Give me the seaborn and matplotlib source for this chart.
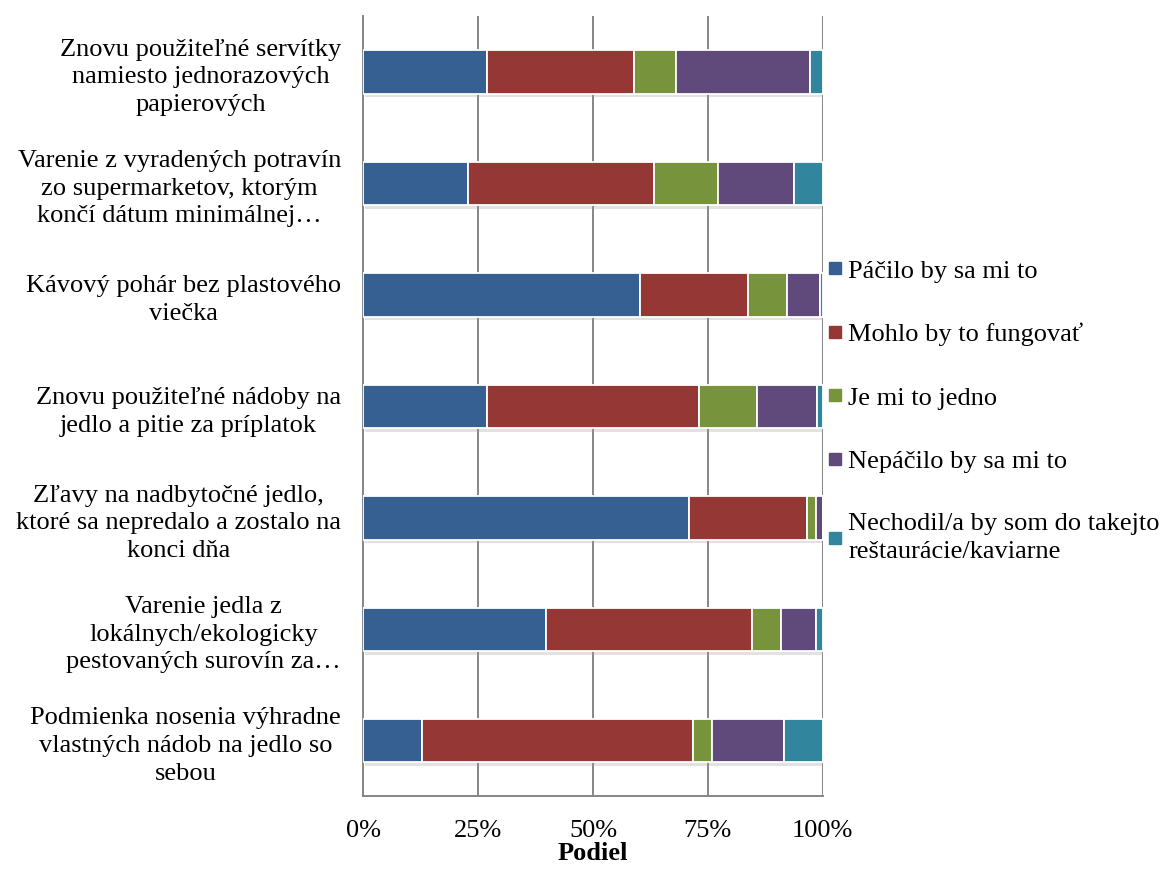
import matplotlib
matplotlib.use("Agg")
import matplotlib.pyplot as plt
import matplotlib.patheffects as pe
from matplotlib.lines import Line2D
import numpy as np
import seaborn as sns

# Survey items (top to bottom)
categories = [
    "Znovu použiteľné servítky\nnamiesto jednorazových\npapierových",
    "Varenie z vyradených potravín\nzo supermarketov, ktorým\nkončí dátum minimálnej…",
    "Kávový pohár bez plastového\nviečka",
    "Znovu použiteľné nádoby na\njedlo a pitie za príplatok",
    "Zľavy na nadbytočné jedlo,\nktoré sa nepredalo a zostalo na\nkonci dňa",
    "Varenie jedla z\nlokálnych/ekologicky\npestovaných surovín za…",
    "Podmienka nosenia výhradne\nvlastných nádob na jedlo so\nsebou",
]

# Share of answers (%) per item
pacilo = [26.9, 22.7, 60.3, 26.9, 71.0, 39.8, 12.7]
mohlo = [32.0, 40.5, 23.4, 46.2, 25.5, 44.7, 59.0]
jedno = [9.2, 14.1, 8.5, 12.7, 2.1, 6.4, 4.2]
nepacilo = [29.1, 16.4, 7.3, 13.0, 1.4, 7.7, 15.7]
nechodil = [2.8, 6.3, 0.5, 1.2, 0.0, 1.4, 8.4]

series_names = [
    "Páčilo by sa mi to",
    "Mohlo by to fungovať",
    "Je mi to jedno",
    "Nepáčilo by sa mi to",
    "Nechodil/a by som do takejto\nreštaurácie/kaviarne",
]
series_values = [pacilo, mohlo, jedno, nepacilo, nechodil]
colors = ["#376092", "#953735", "#77933C", "#604A7B", "#31859C"]

xticks = [0, 25, 50, 75, 100]
xtick_labels = ["0%", "25%", "50%", "75%", "100%"]

sns.set_theme(style="white")
plt.rcParams["font.family"] = ["Liberation Serif", "DejaVu Serif"]
plt.rcParams["text.color"] = "black"

FS = 19

fig = plt.figure(figsize=(11.64, 8.77), dpi=100)
ax = fig.add_axes([0.3121, 0.0918, 0.7068 - 0.3121, 0.9814 - 0.0918])

ypos = np.arange(len(categories))
left = np.zeros(len(categories))
shadow = [pe.SimplePatchShadow(offset=(1.5, -2.5), shadow_rgbFace="#a0a0a0", alpha=0.3), pe.Normal()]
for name, vals, col in zip(series_names, series_values, colors):
    vals = np.asarray(vals, dtype=float)
    bars = ax.barh(ypos, vals, left=left, height=0.39, color=col,
                   edgecolor="white", linewidth=1.3, zorder=3, label=name)
    for b in bars:
        b.set_path_effects(shadow)
    left += vals

ax.set_xlim(0, 100)
ax.set_ylim(len(categories) - 0.5, -0.5)

ax.set_xticks(xticks)
ax.set_xticklabels(xtick_labels, fontsize=FS)
ax.set_yticks(ypos)
ax.set_yticklabels(categories, fontsize=FS)
for lbl in ax.get_yticklabels():
    lbl.set_multialignment("center")
    lbl.set_linespacing(1.33)
ax.tick_params(axis="x", length=0, pad=17, colors="black")
ax.tick_params(axis="y", length=0, pad=16, colors="black")

ax.xaxis.grid(True, color="#868686", linewidth=1.4, zorder=0)
ax.yaxis.grid(False)
for s in ["top", "right"]:
    ax.spines[s].set_visible(False)
for s in ["left", "bottom"]:
    ax.spines[s].set_color("#868686")
    ax.spines[s].set_linewidth(1.4)

ax.set_xlabel("Podiel", fontsize=FS, fontweight="bold", labelpad=0, color="black")
ax.set_ylabel("")

handles = [Line2D([0], [0], marker="s", linestyle="none", markersize=8,
                  markerfacecolor=c, markeredgecolor=c) for c in colors]
leg = fig.legend(handles, series_names, loc="upper left", bbox_to_anchor=(0.7105, 0.7046),
                 frameon=False, fontsize=FS, handlelength=0.6, handletextpad=0.2,
                 labelspacing=1.52, borderpad=0, borderaxespad=0)
for t in leg.get_texts():
    t.set_color("black")
    t.set_linespacing(1.35)

fig.savefig("out.png", dpi=100, facecolor="white")
